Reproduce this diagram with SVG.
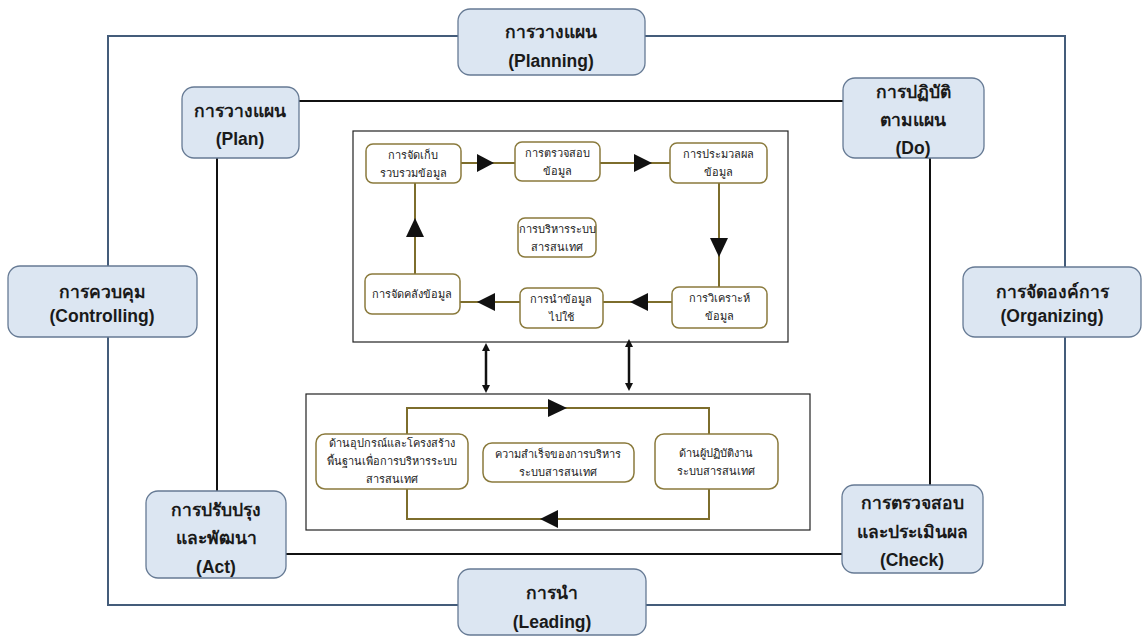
<svg xmlns="http://www.w3.org/2000/svg" width="1145" height="639" viewBox="0 0 1145 639">
<style>
.big{fill:#dce6f2;stroke:#667a94;stroke-width:1.3}
.bt{font-family:"Liberation Sans","Noto Sans",Tahoma,sans-serif;font-weight:bold;font-size:17.5px;fill:#1a1a1a;text-anchor:middle}
.sm{fill:#ffffff;stroke:#8a7a3c;stroke-width:1.5}
.st{font-family:"Liberation Sans","Noto Sans",Tahoma,sans-serif;font-size:11px;fill:#222;text-anchor:middle}
.frame{fill:none;stroke:#445c7a;stroke-width:2}
.blk{fill:none;stroke:#111;stroke-width:2}
.gold{fill:none;stroke:#7d6d2c;stroke-width:2}
.ibox{fill:#fff;stroke:#222;stroke-width:1.2}
</style>
<defs>
<marker id="ah" viewBox="0 0 10 10" refX="5" refY="5" markerWidth="8" markerHeight="8" orient="auto-start-reverse" markerUnits="userSpaceOnUse"><path d="M0,0 L10,5 L0,10 z" fill="#111"/></marker>
</defs>
<rect width="1145" height="639" fill="#fff"/>
<rect class="frame" x="108" y="36" width="957" height="569"/>
<g id="connectors">
<line class="blk" x1="299" y1="101" x2="843" y2="101"/>
<line class="blk" x1="217" y1="158" x2="217" y2="491"/>
<line class="blk" x1="930" y1="158" x2="930" y2="485"/>
<line class="blk" x1="286" y1="554" x2="842" y2="554"/>
<rect class="ibox" x="353" y="131" width="435" height="211"/>
<rect class="ibox" x="306" y="394" width="504" height="136"/>
<line stroke="#111" stroke-width="2.5" x1="486" y1="347" x2="486" y2="389" marker-start="url(#ah)" marker-end="url(#ah)"/>
<line stroke="#111" stroke-width="2.5" x1="629" y1="343" x2="629" y2="387" marker-start="url(#ah)" marker-end="url(#ah)"/>
<line class="gold" x1="461" y1="163" x2="515" y2="163"/>
<polygon points="477,154 494,163 477,172" fill="#111"/>
<line class="gold" x1="600" y1="163" x2="670" y2="163"/>
<polygon points="634,154 652,163 634,172" fill="#111"/>
<line class="gold" x1="719" y1="183" x2="719" y2="287"/>
<polygon points="710,238 728,238 719,257" fill="#111"/>
<line class="gold" x1="672" y1="302" x2="603" y2="302"/>
<polygon points="648,293 630,302 648,311" fill="#111"/>
<line class="gold" x1="520" y1="302" x2="460" y2="302"/>
<polygon points="495,293 477,302 495,311" fill="#111"/>
<line class="gold" x1="415" y1="274" x2="415" y2="183"/>
<polygon points="406,237 415,218 424,237" fill="#111"/>
<polyline class="gold" points="407,434 407,408 709,408 709,434"/>
<polygon points="548,399 567,408 548,417" fill="#111"/>
<polyline class="gold" points="709,489 709,519 407,519 407,489"/>
<polygon points="558,510 540,519 558,528" fill="#111"/>
</g>
<g id="planning"><rect class="big" x="458" y="9" width="187" height="66" rx="12"/><text class="bt" x="551" y="38">การวางแผน</text><text class="bt" x="551" y="67">(Planning)</text></g>
<g id="plan"><rect class="big" x="182" y="87" width="117" height="71" rx="12"/><text class="bt" x="240" y="117">การวางแผน</text><text class="bt" x="240" y="145">(Plan)</text></g>
<g id="do"><rect class="big" x="843" y="78" width="141" height="80" rx="12"/><text class="bt" x="913" y="98">การปฏิบัติ</text><text class="bt" x="913" y="126">ตามแผน</text><text class="bt" x="913" y="154">(Do)</text></g>
<g id="controlling"><rect class="big" x="8" y="266" width="189" height="71" rx="12"/><text class="bt" x="102" y="298">การควบคุม</text><text class="bt" x="102" y="322">(Controlling)</text></g>
<g id="organizing"><rect class="big" x="963" y="267" width="178" height="70" rx="12"/><text class="bt" x="1052" y="298">การจัดองค์การ</text><text class="bt" x="1052" y="322">(Organizing)</text></g>
<g id="act"><rect class="big" x="146" y="491" width="140" height="87" rx="12"/><text class="bt" x="216" y="516">การปรับปรุง</text><text class="bt" x="216" y="544">และพัฒนา</text><text class="bt" x="216" y="573">(Act)</text></g>
<g id="check"><rect class="big" x="842" y="485" width="141" height="88" rx="12"/><text class="bt" x="912" y="509">การตรวจสอบ</text><text class="bt" x="912" y="538">และประเมินผล</text><text class="bt" x="912" y="566">(Check)</text></g>
<g id="leading"><rect class="big" x="458" y="569" width="188" height="66" rx="12"/><text class="bt" x="552" y="599">การนำ</text><text class="bt" x="552" y="628">(Leading)</text></g>
<g id="n1"><rect class="sm" x="366" y="144" width="95" height="39" rx="7"/><text class="st" x="413" y="159">การจัดเก็บ</text><text class="st" x="413" y="177">รวบรวมข้อมูล</text></g>
<g id="n2"><rect class="sm" x="515" y="142" width="85" height="39" rx="7"/><text class="st" x="557" y="157">การตรวจสอบ</text><text class="st" x="557" y="175">ข้อมูล</text></g>
<g id="n3"><rect class="sm" x="670" y="143" width="97" height="40" rx="7"/><text class="st" x="718" y="158">การประมวลผล</text><text class="st" x="718" y="176">ข้อมูล</text></g>
<g id="center"><rect class="sm" x="518" y="218" width="78" height="39" rx="7"/><text class="st" x="557" y="233">การบริหารระบบ</text><text class="st" x="557" y="251">สารสนเทศ</text></g>
<g id="n4"><rect class="sm" x="672" y="287" width="95" height="41" rx="7"/><text class="st" x="719" y="302">การวิเคราะห์</text><text class="st" x="719" y="320">ข้อมูล</text></g>
<g id="n5"><rect class="sm" x="520" y="288" width="83" height="40" rx="7"/><text class="st" x="561" y="303">การนำข้อมูล</text><text class="st" x="561" y="321">ไปใช้</text></g>
<g id="n6"><rect class="sm" x="365" y="274" width="95" height="40" rx="7"/><text class="st" x="412" y="298">การจัดคลังข้อมูล</text></g>
<g id="l1"><rect class="sm" x="316" y="434" width="152" height="55" rx="9"/><text class="st" x="392" y="447">ด้านอุปกรณ์และโครงสร้าง</text><text class="st" x="392" y="465">พื้นฐานเพื่อการบริหารระบบ</text><text class="st" x="392" y="483">สารสนเทศ</text></g>
<g id="l2"><rect class="sm" x="483" y="443" width="151" height="39" rx="9"/><text class="st" x="558" y="458">ความสำเร็จของการบริหาร</text><text class="st" x="558" y="476">ระบบสารสนเทศ</text></g>
<g id="l3"><rect class="sm" x="655" y="434" width="123" height="55" rx="9"/><text class="st" x="716" y="457">ด้านผู้ปฏิบัติงาน</text><text class="st" x="716" y="475">ระบบสารสนเทศ</text></g>
</svg>
